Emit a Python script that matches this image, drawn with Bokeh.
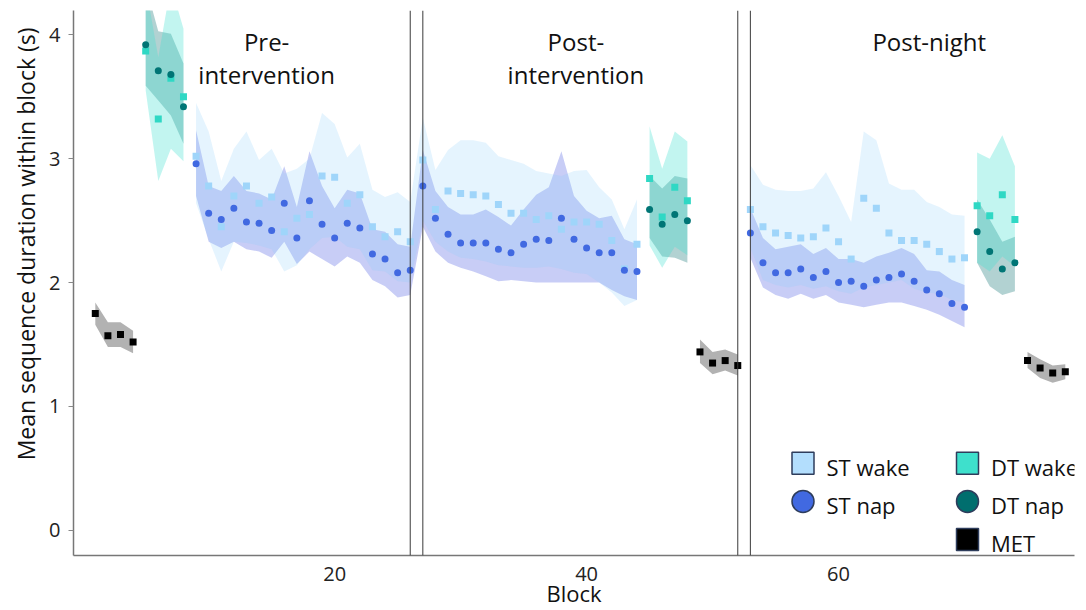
from bokeh.plotting import figure
from bokeh.models import Span, Label, FixedTicker, Title
from bokeh.embed import file_html
from bokeh.resources import INLINE

FONT = "Open Sans"

# ---------------- data ----------------
# Stimulus-task (ST) blocks: pre 9-26, post 27-44, post-night 53-70
st_blocks = list(range(9, 27)) + list(range(27, 45)) + list(range(53, 71))
st_wake_mean = [3.02, 2.78, 2.45, 2.70, 2.78, 2.64, 2.69, 2.41, 2.52, 2.55, 2.86, 2.85, 2.64, 2.71, 2.45, 2.37, 2.41, 2.33,
                2.99, 2.59, 2.74, 2.72, 2.71, 2.70, 2.63, 2.56, 2.56, 2.51, 2.54, 2.43, 2.49, 2.49, 2.47, 2.34, 2.11, 2.31,
                2.59, 2.45, 2.40, 2.38, 2.36, 2.37, 2.44, 2.33, 2.19, 2.68, 2.60, 2.40, 2.34, 2.34, 2.31, 2.25, 2.19, 2.20]
st_wake_hi = [3.45, 3.22, 2.82, 3.08, 3.22, 2.99, 3.08, 2.88, 2.92, 3.00, 3.37, 3.28, 3.01, 3.12, 2.75, 2.69, 2.73, 2.65,
              3.33, 2.91, 3.07, 3.15, 3.15, 3.13, 3.02, 2.99, 2.96, 2.90, 2.88, 2.86, 2.90, 2.91, 2.77, 2.67, 2.43, 2.67,
              2.95, 2.79, 2.75, 2.74, 2.74, 2.76, 2.89, 2.70, 2.49, 3.22, 3.15, 2.80, 2.75, 2.75, 2.65, 2.61, 2.55, 2.54]
st_wake_lo = [2.64, 2.35, 2.09, 2.33, 2.32, 2.30, 2.27, 2.09, 2.14, 2.27, 2.36, 2.37, 2.29, 2.27, 2.10, 2.09, 2.01, 2.00,
              2.50, 2.33, 2.25, 2.20, 2.19, 2.17, 2.14, 2.13, 2.12, 2.12, 2.13, 2.11, 2.08, 2.07, 2.00, 1.92, 1.81, 1.86,
              2.28, 2.02, 1.98, 1.96, 1.98, 1.95, 1.97, 1.93, 1.91, 1.96, 1.98, 2.00, 2.02, 1.95, 1.92, 1.91, 1.86, 1.84]
st_nap_mean = [2.96, 2.56, 2.51, 2.60, 2.49, 2.48, 2.42, 2.64, 2.36, 2.66, 2.47, 2.36, 2.48, 2.44, 2.23, 2.19, 2.08, 2.10,
               2.78, 2.52, 2.39, 2.32, 2.32, 2.32, 2.27, 2.24, 2.31, 2.35, 2.34, 2.52, 2.35, 2.28, 2.24, 2.24, 2.10, 2.09,
               2.40, 2.16, 2.08, 2.08, 2.11, 2.04, 2.09, 2.00, 2.01, 1.97, 2.02, 2.04, 2.07, 2.01, 1.94, 1.91, 1.83, 1.80]
st_nap_hi = [3.23, 2.78, 2.74, 2.86, 2.74, 2.72, 2.67, 2.94, 2.61, 3.06, 2.78, 2.60, 2.75, 2.72, 2.43, 2.41, 2.31, 2.29,
             3.07, 2.74, 2.61, 2.55, 2.55, 2.59, 2.53, 2.46, 2.59, 2.71, 2.77, 3.06, 2.70, 2.58, 2.52, 2.54, 2.35, 2.31,
             2.60, 2.36, 2.27, 2.29, 2.31, 2.23, 2.28, 2.19, 2.19, 2.16, 2.21, 2.24, 2.28, 2.23, 2.10, 2.09, 2.02, 1.98]
st_nap_lo = [2.70, 2.33, 2.28, 2.33, 2.27, 2.25, 2.20, 2.33, 2.15, 2.25, 2.19, 2.13, 2.21, 2.16, 2.02, 1.97, 1.88, 1.90,
             2.45, 2.25, 2.16, 2.12, 2.09, 2.05, 2.01, 2.02, 2.01, 2.00, 2.00, 2.00, 2.00, 2.00, 2.00, 1.94, 1.89, 1.86,
             2.20, 1.96, 1.90, 1.87, 1.91, 1.87, 1.90, 1.84, 1.82, 1.80, 1.82, 1.84, 1.84, 1.81, 1.78, 1.74, 1.69, 1.64]

# Dual-task (DT) blocks
dt_blocks = [5, 6, 7, 8, 45, 46, 47, 48, 71, 72, 73, 74]
dt_wake_mean = [3.87, 3.32, 3.65, 3.50, 2.84, 2.53, 2.77, 2.66, 2.62, 2.54, 2.71, 2.51]
dt_wake_hi = [4.40, 3.82, 4.40, 4.05, 3.26, 2.92, 3.22, 3.14, 3.05, 3.00, 3.19, 2.94]
dt_wake_lo = [3.55, 2.82, 3.08, 2.98, 2.30, 2.12, 2.29, 2.22, 2.16, 2.09, 2.21, 2.13]
dt_nap_mean = [3.92, 3.71, 3.68, 3.42, 2.59, 2.47, 2.55, 2.50, 2.41, 2.25, 2.11, 2.16]
dt_nap_hi = [4.40, 4.03, 4.01, 3.77, 2.86, 2.76, 2.86, 2.84, 2.67, 2.51, 2.33, 2.37]
dt_nap_lo = [3.59, 3.47, 3.35, 3.12, 2.36, 2.21, 2.20, 2.16, 2.16, 1.97, 1.90, 1.93]

# Motor execution task (MET) blocks
met_blocks = [1, 2, 3, 4, 49, 50, 51, 52, 75, 76, 77, 78]
met_mean = [1.75, 1.57, 1.58, 1.52, 1.44, 1.35, 1.37, 1.33, 1.37, 1.31, 1.27, 1.28]
met_hi = [1.84, 1.68, 1.68, 1.61, 1.54, 1.44, 1.46, 1.42, 1.44, 1.38, 1.33, 1.34]
met_lo = [1.66, 1.48, 1.48, 1.43, 1.35, 1.26, 1.29, 1.25, 1.31, 1.23, 1.19, 1.22]

phase_bounds = [26, 27, 52, 53]
phase_names = [["Pre-", "intervention"], ["Post-", "intervention"], ["Post-night"]]
phase_label_x = [14.6, 39.15, 67.2]

x_ticks = [20, 40, 60]
y_ticks = [0, 1, 2, 3, 4]

legend_names = ["ST wake", "ST nap", "DT wake", "DT nap", "MET"]
y_title = "Mean sequence duration within block (s)"
x_title = "Block"

# ---------------- helpers ----------------
def runs(xs, *cols):
    """split into consecutive-block segments"""
    segs = []
    start = 0
    for i in range(1, len(xs) + 1):
        if i == len(xs) or xs[i] != xs[i - 1] + 1:
            segs.append([xs[start:i]] + [c[start:i] for c in cols])
            start = i
    return segs

# ---------------- figure ----------------
XR = (-0.73, 78.73)
YR = (-0.204, 4.197)
FL, FT, FW, FH = 73, 10, 1001, 547   # frame placement in pixels

p = figure(width=1086, height=610, x_range=XR, y_range=YR,
           output_backend="svg", toolbar_location=None,
           min_border_left=FL, min_border_right=1086 - FL - FW, min_border_top=FT,
           min_border_bottom=610 - FT - FH)
p.outline_line_color = None
p.xgrid.visible = False
p.ygrid.visible = False

ST_WAKE = "#9fd5fa"
ST_NAP = "#4169e1"
DT_WAKE = "#2fd8c4"
DT_NAP = "#007575"

def sx2d(px):
    return XR[0] + (px - FL) / FW * (XR[1] - XR[0])

def sy2d(py):
    return YR[1] - (py - FT) / FH * (YR[1] - YR[0])

# bands
for seg in runs(met_blocks, met_lo, met_hi):
    p.varea(x=seg[0], y1=seg[1], y2=seg[2], fill_color="black", fill_alpha=0.3)
for seg in runs(st_blocks, st_nap_lo, st_nap_hi):
    p.varea(x=seg[0], y1=seg[1], y2=seg[2], fill_color="#4a5be0", fill_alpha=0.3)
for seg in runs(st_blocks, st_wake_lo, st_wake_hi):
    p.varea(x=seg[0], y1=seg[1], y2=seg[2], fill_color="#87cefa", fill_alpha=0.22)
for seg in runs(dt_blocks, dt_nap_lo, dt_nap_hi):
    p.varea(x=seg[0], y1=seg[1], y2=seg[2], fill_color="#006b6b", fill_alpha=0.3)
for seg in runs(dt_blocks, dt_wake_lo, dt_wake_hi):
    p.varea(x=seg[0], y1=seg[1], y2=seg[2], fill_color="#40e0d0", fill_alpha=0.32)

# points
p.scatter(st_blocks, st_wake_mean, marker="square", size=7, fill_color=ST_WAKE, line_color=None)
p.scatter(st_blocks, st_nap_mean, marker="circle", size=7, fill_color=ST_NAP, line_color=None)
p.scatter(dt_blocks, dt_wake_mean, marker="square", size=7, fill_color=DT_WAKE, line_color=None)
p.scatter(dt_blocks, dt_nap_mean, marker="circle", size=7, fill_color=DT_NAP, line_color=None)
p.scatter(met_blocks, met_mean, marker="square", size=7, fill_color="black", line_color=None)

# phase boundaries
for b in phase_bounds:
    p.add_layout(Span(location=b, dimension="height", line_color="#3a3a3a", line_width=1))

# phase titles
for names, xc in zip(phase_names, phase_label_x):
    for k, t in enumerate(names):
        p.add_layout(Label(x=xc, y=3.945 - 0.262 * k, text=t, text_align="center",
                           text_baseline="alphabetic", text_font=FONT, text_font_size="24px",
                           text_color="#111111"))

# axes
for ax in (p.xaxis[0], p.yaxis[0]):
    ax.axis_line_color = "#777777"
    ax.axis_line_width = 1.5
    ax.major_tick_line_color = "#888888"
    ax.minor_tick_line_color = None
    ax.major_tick_in = 0
    ax.major_label_text_font = FONT
    ax.major_label_text_font_size = "20px"
    ax.major_label_text_color = "#222222"
    ax.axis_label_text_font = FONT
    ax.axis_label_text_font_style = "normal"
    ax.axis_label_text_color = "#111111"

p.xaxis.ticker = FixedTicker(ticks=x_ticks)
p.yaxis.ticker = FixedTicker(ticks=y_ticks)
p.yaxis.major_tick_out = 5
p.yaxis.major_label_standoff = 8
# x ticks in the reference are almost invisible; a longer transparent tick pushes the labels down
p.xaxis.major_tick_out = 12
p.xaxis.major_tick_line_alpha = 0
p.xaxis.major_label_standoff = -1
p.xaxis.axis_label = x_title
p.xaxis.axis_label_text_font_size = "22px"
p.xaxis.axis_label_standoff = -6

# y-axis title, placed towards the top like in the reference
p.add_layout(Title(text=y_title, align="right", offset=17, text_font=FONT,
                   text_font_size="23px", text_font_style="normal", text_color="#111111"), "left")

# ---------------- legend (drawn by hand, positions in screen pixels) ----------------
legend_style = [("square", "#b3defd", 802.5, 464.5), ("circle", ST_NAP, 802.5, 502.7),
                ("square", "#3ee0cc", 967.0, 464.5), ("circle", "#006e6e", 967.0, 502.7),
                ("square", "black", 967.0, 541.0)]
for name, (mk, col, px, py) in zip(legend_names, legend_style):
    p.scatter([sx2d(px)], [sy2d(py)], marker=mk, size=22, fill_color=col,
              line_color="#2e3d5c", line_width=1.5)
    p.add_layout(Label(x=sx2d(px + 23.5), y=sy2d(py + 3.5), text=name, text_align="left",
                       text_baseline="alphabetic", text_font=FONT, text_font_size="22px",
                       text_color="#111111"))

open("out.html", "w").write(file_html(p, INLINE))
